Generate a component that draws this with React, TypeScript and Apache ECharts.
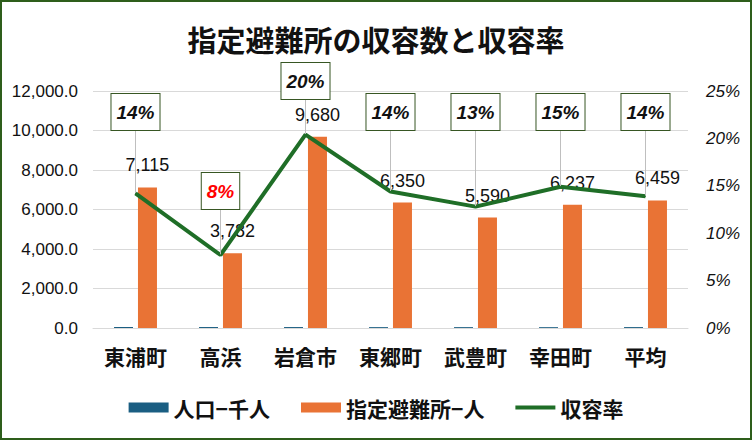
import React, { useEffect, useRef } from "react";
import * as echarts from "echarts";

// ---- data ----
const categories = ["東浦町", "高浜", "岩倉市", "東郷町", "武豊町", "幸田町", "平均"];
const populationK = [50, 49, 48, 44, 44, 42, 46]; // 人口-千人
const shelterCapacity = [7115, 3782, 9680, 6350, 5590, 6237, 6459]; // 指定避難所-人
const capacityRate = [14.2, 7.7, 20.4, 14.4, 12.8, 14.9, 13.9]; // 収容率 (%)
const leftTicks = { min: 0, max: 12000, interval: 2000 };
const rightTicks = { min: 0, max: 25, interval: 5 };

// ---- layout ----
const W = 752;
const H = 440;
const GRID = { left: 93, right: 64, top: 91, bottom: 112 };
const RATE_BOX_Y = [112, 191, 81, 112, 112, 112, 112];

const JP = "'Noto Sans CJK JP', 'Noto Sans', sans-serif";
const NUM = "'Liberation Sans', Arial, sans-serif";

export default function App() {
  const ref = useRef<HTMLDivElement>(null);

  useEffect(() => {
    if (!ref.current) return;
    const chart = echarts.init(ref.current, undefined, { renderer: "svg" });
    const minIdx = capacityRate.indexOf(Math.min(...capacityRate));

    chart.setOption({
      animation: false,
      backgroundColor: "#ffffff",
      title: {
        text: "指定避難所の収容数と収容率",
        left: "center",
        top: 19,
        textStyle: { fontFamily: JP, fontSize: 29, fontWeight: "bold", color: "#111" },
      },
      graphic: [
        {
          type: "rect",
          shape: { x: 1, y: 1, width: W - 2, height: H - 2 },
          style: { fill: "none", stroke: "#2E5E1B", lineWidth: 2 },
          silent: true,
          z: 100,
        },
      ],
      legend: {
        bottom: 17,
        left: "center",
        itemWidth: 40,
        itemHeight: 10,
        itemGap: 31,
        textStyle: { fontFamily: JP, fontSize: 21, fontWeight: "bold", color: "#111" },
        data: [
          { name: "人口−千人", icon: "rect" },
          { name: "指定避難所−人", icon: "rect" },
          { name: "収容率", icon: "path://M0 0H40V4H0Z" },
        ],
      },
      grid: { ...GRID, containLabel: false },
      xAxis: {
        type: "category",
        data: categories,
        axisLine: { show: true, lineStyle: { color: "#D9D9D9", width: 1 } },
        axisTick: { show: false },
        axisLabel: {
          margin: 17,
          fontFamily: JP,
          fontSize: 21,
          fontWeight: "bold",
          color: "#111",
        },
      },
      yAxis: [
        {
          type: "value",
          ...leftTicks,
          axisLine: { show: false },
          axisTick: { show: false },
          splitLine: { lineStyle: { color: "#D9D9D9", width: 1 } },
          axisLabel: {
            margin: 15,
            fontFamily: NUM,
            fontSize: 17,
            color: "#111",
            formatter: (v: number) =>
              v.toLocaleString("en-US", { minimumFractionDigits: 1, maximumFractionDigits: 1 }),
          },
        },
        {
          type: "value",
          ...rightTicks,
          axisLine: { show: false },
          axisTick: { show: false },
          splitLine: { show: false },
          axisLabel: {
            margin: 18,
            fontFamily: NUM,
            fontSize: 17,
            fontStyle: "italic",
            color: "#111",
            formatter: "{value}%",
          },
        },
      ],
      series: [
        {
          name: "人口−千人",
          type: "bar",
          data: populationK,
          barWidth: 19,
          barGap: "26%",
          itemStyle: { color: "#1A5E82" },
        },
        {
          name: "指定避難所−人",
          type: "bar",
          data: shelterCapacity,
          barWidth: 19,
          itemStyle: { color: "#E97335" },
          label: {
            show: true,
            position: "top",
            distance: 13,
            fontFamily: NUM,
            fontSize: 18,
            color: "#111",
            formatter: (p: any) => Number(p.value).toLocaleString("en-US"),
          },
        },
        {
          name: "収容率",
          type: "line",
          yAxisIndex: 1,
          z: 5,
          symbol: "circle",
          symbolSize: 1,
          itemStyle: { color: "#1F6E27" },
          lineStyle: { color: "#1F6E27", width: 4 },
          data: capacityRate.map((v, i) =>
            i === minIdx ? { value: v, label: { color: "#FF0000" } } : v
          ),
          label: {
            show: true,
            position: "top",
            fontFamily: NUM,
            fontSize: 19,
            fontWeight: "bold",
            fontStyle: "italic",
            color: "#111",
            lineHeight: 20,
            backgroundColor: "#ffffff",
            borderColor: "#375623",
            borderWidth: 1,
            padding: [8, 5, 8, 5],
            formatter: (p: any) => Math.round(Number(p.value)) + "%",
          },
          labelLine: {
            show: true,
            length2: 0,
            lineStyle: { color: "#BFBFBF", width: 1 },
          },
          labelLayout: (params: any) => ({
            x: params.rect.x + params.rect.width / 2,
            y: RATE_BOX_Y[params.dataIndex],
            align: "center",
            verticalAlign: "middle",
          }),
        },
      ],
    });

    return () => chart.dispose();
  }, []);

  return (
    <div
      ref={ref}
      style={{ position: "absolute", left: 0, top: 0, width: W, height: H }}
    />
  );
}
